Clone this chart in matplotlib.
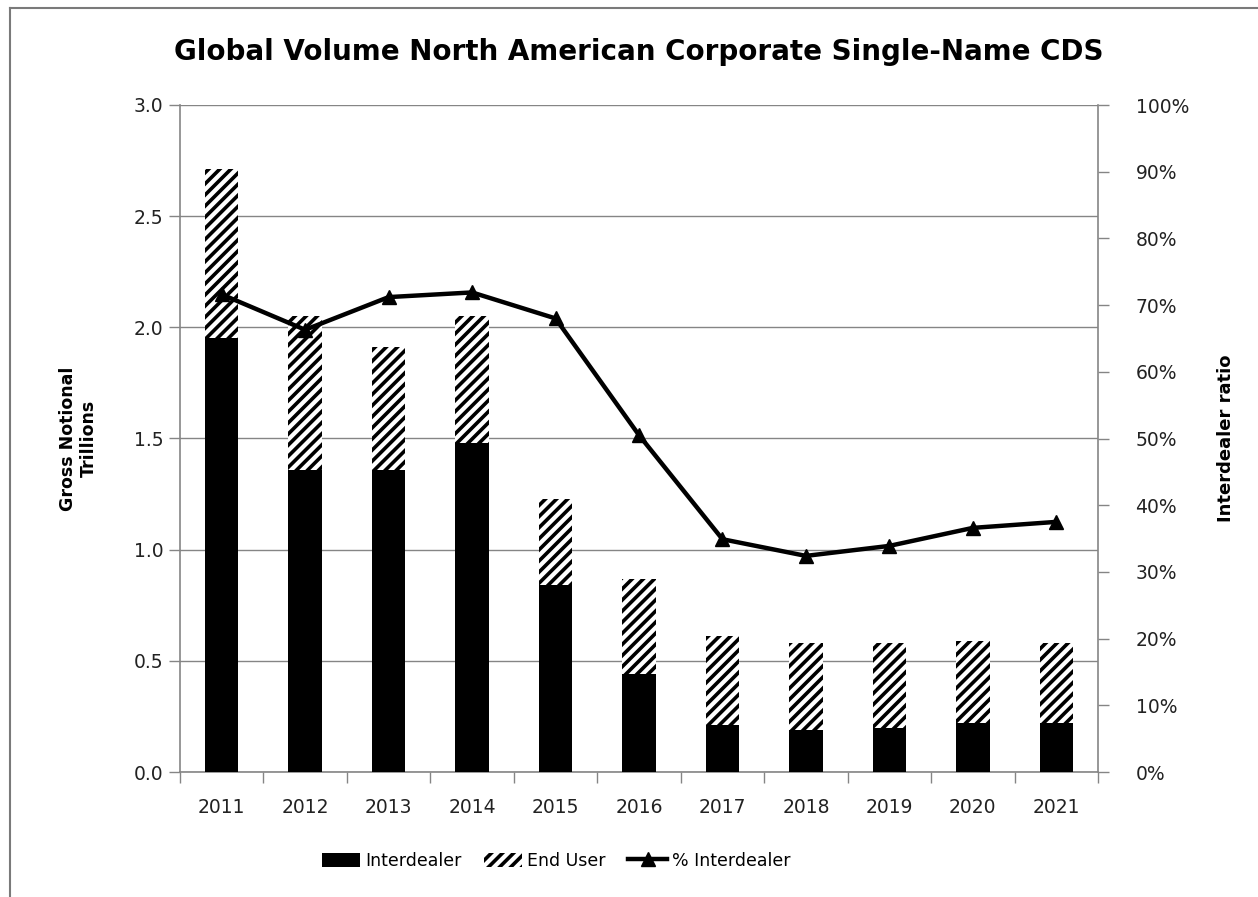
import matplotlib
matplotlib.use("Agg")
import matplotlib.pyplot as plt
from matplotlib.lines import Line2D
from matplotlib.patches import Patch
import numpy as np

years = ["2011", "2012", "2013", "2014", "2015", "2016", "2017", "2018", "2019", "2020", "2021"]
interdealer = [1.95, 1.36, 1.36, 1.48, 0.84, 0.44, 0.21, 0.19, 0.20, 0.22, 0.22]
total = [2.71, 2.05, 1.91, 2.05, 1.23, 0.87, 0.61, 0.58, 0.58, 0.59, 0.58]
end_user = [t - i for t, i in zip(total, interdealer)]
pct_interdealer = [71.6, 66.3, 71.2, 71.9, 68.0, 50.5, 34.9, 32.4, 33.9, 36.6, 37.5]

left_ticks = [0.0, 0.5, 1.0, 1.5, 2.0, 2.5, 3.0]
right_ticks = list(range(0, 101, 10))

plt.rcParams['font.family'] = ['DejaVu Sans']
plt.rcParams['hatch.linewidth'] = 2.6
plt.rcParams['hatch.color'] = 'black'

W, H = 1258, 897
fig = plt.figure(figsize=(W / 100, H / 100), dpi=100)
ax = fig.add_axes([180 / W, 1 - 772 / H, (1098 - 180) / W, (772 - 105) / H])

x = np.arange(len(years))
grey = '#858585'

ax.bar(x, interdealer, width=0.4, color='black', edgecolor='none', zorder=3)
ax.bar(x, end_user, width=0.4, bottom=interdealer, color='white', edgecolor='black',
       linewidth=0, hatch='///', zorder=3)

ax.set_xlim(-0.5, len(years) - 0.5)
ax.set_ylim(0, 3.0)
ax.set_yticks(left_ticks)
ax.set_yticklabels([f"{v:.1f}" for v in left_ticks])
ax.set_xticks(x)
ax.set_xticklabels(years)
ax.set_xticks(np.arange(-0.5, len(years)), minor=True)
ax.tick_params(axis='x', which='major', length=0, pad=19, labelsize=13.5, colors='#222222')
ax.tick_params(axis='x', which='minor', length=8, width=1, color=grey, direction='out')
ax.tick_params(axis='y', length=8, width=1, color=grey, labelsize=13.5, labelcolor='#222222', pad=4)
ax.grid(axis='y', color=grey, linewidth=1, zorder=0)
for s in ['top', 'right']:
    ax.spines[s].set_visible(False)
for s in ['left', 'bottom']:
    ax.spines[s].set_color(grey)
    ax.spines[s].set_linewidth(1.2)

ax.set_ylabel("Gross Notional\nTrillions", fontsize=12.5, fontweight='bold', labelpad=26)

ax2 = ax.twinx()
ax2.set_ylim(0, 100)
ax2.set_yticks(right_ticks)
ax2.set_yticklabels([f"{v}%" for v in right_ticks])
ax2.tick_params(axis='y', length=8, width=1, color=grey, labelsize=13.5, labelcolor='#222222', pad=19)
for s in ['top', 'left', 'bottom']:
    ax2.spines[s].set_visible(False)
ax2.spines['right'].set_color(grey)
ax2.spines['right'].set_linewidth(1.2)
ax2.plot(x, pct_interdealer, color='black', linewidth=3.2, marker='^', markersize=10, zorder=5)
ax2.set_ylabel("Interdealer ratio", fontsize=13, fontweight='bold', labelpad=20)

fig.text(639 / W, 1 - 52 / H, "Global Volume North American Corporate Single-Name CDS",
         ha='center', va='center', fontsize=20, fontweight='bold')

handles = [Patch(facecolor='black', edgecolor='none'),
           Patch(facecolor='white', edgecolor='black', linewidth=0, hatch='///'),
           Line2D([0], [0], color='black', linewidth=3.2, marker='^', markersize=10)]
labels = ["Interdealer", "End User", "% Interdealer"]
fig.legend(handles, labels, loc='center', bbox_to_anchor=(556 / W, 1 - 861 / H), ncol=3,
           frameon=False, fontsize=12.5, handlelength=2.2, handleheight=0.9,
           columnspacing=1.3, handletextpad=0.3)

fig.add_artist(Line2D([10 / W, 10 / W], [0, 1 - 8 / H], color='#7a7a7a', linewidth=1.5,
                      transform=fig.transFigure))
fig.add_artist(Line2D([10 / W, 1], [1 - 8 / H, 1 - 8 / H], color='#7a7a7a', linewidth=1.5,
                      transform=fig.transFigure))

fig.savefig("out.png", dpi=100)
